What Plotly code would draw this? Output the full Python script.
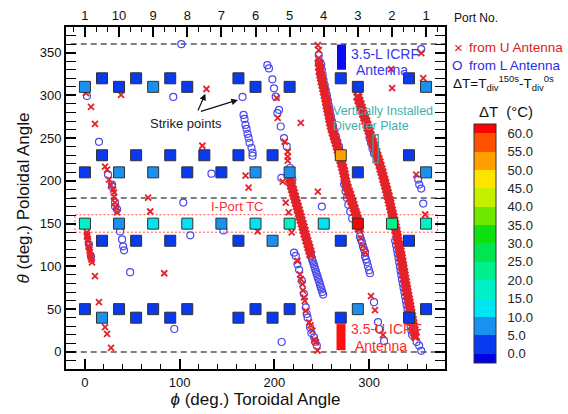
import plotly.graph_objects as go

# ---------------- data ----------------
# thermocouple squares (toroidal angle, poloidal angle, delta T)
sq_phi = [18, 54, 90, 162, 270, 342,
          0, 36, 72, 108, 180, 216, 288, 360,
          18, 54, 90, 126, 162, 198, 270, 342,
          0, 36, 72, 108, 144, 180, 216, 288, 360,
          0, 36, 72, 108, 144, 180, 216, 252, 288, 324, 360,
          18, 54, 90, 162, 198, 270, 342,
          0, 36, 72, 108, 180, 216, 288, 360,
          18, 54, 90, 162, 198, 270, 342]
sq_theta = [320] * 6 + [310] * 8 + [230] * 8 + [210] * 9 + [150] * 11 + [130] * 7 + [50] * 8 + [40] * 7
sq_dT = [2, 2, 2, 2, 2, 2,
         6, 3, 5, 2, 2, 3, 2, 6,
         2, 2, 2, 2, 2, 2, 52, 2,
         3, 6, 6, 2, 2, 8, 5, 2, 5,
         17, 8, 13, 13, 8, 13, 18, 13, 62, 23, 17,
         2, 2, 2, 2, 6, 2, 2,
         2, 2, 2, 2, 2, 2, 8, 2,
         5, 2, 2, 2, 2, 2, 2]

# strike points from U antenna (phi, theta)
u_left = [(1.1, 302.8), (6.4, 286.5), (10.6, 266.7), (21.2, 216.6), (23.3, 213.1), (25.4, 201.5),
          (27.5, 195.0), (29.7, 189.8), (30.7, 186.4), (30.7, 181.7), (31.8, 174.7), (32.8, 168.9),
          (33.9, 163.1), (2.1, 139.8), (2.5, 137.0), (2.1, 135.1), (3.0, 132.0), (3.2, 129.3),
          (3.8, 124.0), (4.2, 122.3), (4.8, 119.0), (5.3, 116.5), (5.8, 113.0), (6.4, 110.6),
          (6.9, 108.0), (7.4, 104.8), (10.6, 88.5), (14.8, 58.2), (21.2, 29.1), (23.3, 21.0), (27.5, 4.7)]
u_isolated = [(38.1, 300.5), (128.2, 307.5), (123.9, 241.1), (169.5, 206.2), (172.7, 192.2), (66.7, 180.5),
              (68.9, 164.2), (83.7, 92.0), (182.2, 140.9), (202.3, 297.0), (203.4, 273.7), (210.8, 245.8),
              (214.0, 234.1), (214.0, 228.3), (214.0, 223.6), (208.7, 199.2), (227.8, 267.9), (245.8, 187.5),
              (211.9, 174.7), (215.0, 163.1), (218.2, 139.8), (245.8, 358.7), (246.8, 352.9), (246.8, 343.6),
              (354.9, 349.4), (357.0, 320.3), (324.2, 308.6), (323.1, 330.8), (349.6, 207.3), (359.1, 160.7),
              (301.9, 65.2), (306.1, 48.9), (314.6, 19.8), (291.0, 133.0), (293.5, 124.0), (296.0, 116.0)]
u_streak1 = [(247.3, 338.0), (247.6, 333.0), (248.1, 328), (248.9, 324), (249.7, 320), (250.4, 316),
             (251.2, 312), (252.0, 308), (252.8, 304), (253.6, 300), (254.3, 296), (255.0, 292),
             (255.6, 288), (256.3, 284), (257.1, 280), (257.8, 276), (258.5, 272), (259.3, 268),
             (260.1, 264), (260.9, 260), (262.0, 256), (263.1, 252), (264.2, 248), (265.3, 244),
             (266.4, 240), (267.4, 236), (268.3, 232), (269.2, 228), (270.1, 224), (271.0, 220),
             (272.0, 216), (272.9, 212), (273.7, 208), (274.4, 204), (275.0, 200), (275.7, 196),
             (276.9, 192), (278.1, 188), (279.3, 184), (280.5, 180), (281.7, 176), (282.9, 172),
             (284.1, 168), (285.2, 164), (286.4, 160), (287.5, 156), (288.6, 152), (289.2, 148), (289.5, 144)]
u_streak2 = [(288.0, 298), (289.2, 294), (290.4, 290), (291.6, 286), (292.8, 282), (294.0, 278),
             (295.2, 274), (296.4, 270), (297.6, 266), (298.8, 262), (300.0, 258), (301.1, 254),
             (302.3, 250), (303.5, 246), (304.6, 242), (305.8, 238), (307.0, 234), (308.1, 230),
             (309.3, 226), (310.4, 222), (311.5, 218), (312.5, 214), (313.5, 210), (314.4, 206),
             (315.4, 202), (316.4, 198), (317.3, 194), (318.3, 190), (319.2, 186), (320.1, 182),
             (321.0, 178), (321.8, 174), (322.6, 170), (323.5, 166), (324.3, 162), (325.2, 158),
             (326.0, 154), (326.8, 150), (327.5, 146), (328.3, 142), (329.0, 138), (329.7, 134),
             (330.4, 130), (331.1, 126), (331.9, 122), (332.6, 118), (333.3, 114), (333.9, 110),
             (334.5, 106), (335.1, 102), (335.7, 98), (336.3, 94), (336.9, 90), (337.5, 86),
             (338.1, 82), (338.8, 78), (339.4, 74), (340.1, 70), (340.7, 66), (341.4, 62),
             (342.1, 58), (342.7, 54), (343.4, 50), (344.0, 46), (344.7, 42), (345.4, 38),
             (346.0, 34), (346.7, 30), (347.3, 26), (348.0, 22), (348.6, 18)]
u_streak3 = [(216.0, 202), (217.0, 198), (218.0, 194), (219.1, 190), (220.1, 186), (221.1, 182),
             (222.1, 178), (223.1, 174), (224.2, 170), (225.2, 166), (226.2, 162), (227.2, 158),
             (228.2, 154), (229.3, 150), (230.3, 146), (231.3, 142), (232.3, 138), (233.3, 134),
             (234.3, 130), (235.4, 126), (236.4, 122), (237.4, 118), (238.4, 114)]
u_streak4 = [(224.3, 106.3), (227.0, 90.8), (227.8, 85.0), (229.6, 79.2), (230.0, 72.0), (231.3, 63.7),
             (232.0, 59.8), (233.1, 48.1), (236.6, 34.6), (238.0, 31.0), (240.1, 24.8), (242.0, 14.0),
             (243.6, 11.3), (245.4, 1.5)]

# strike points from L antenna (phi, theta)
l_left = [(2.1, 299.3), (14.8, 245.7), (24.4, 207.3), (28.6, 195.7), (28.6, 193.3), (31.8, 174.7),
          (31.8, 170.0), (33.9, 166.6), (4.2, 125.8), (6.4, 111.8)]
l_isolated = [(101.7, 359.9), (93.2, 298.2), (166.3, 298.2), (133.5, 208.5), (103.8, 174.7), (37.1, 140.9),
              (39.2, 131.6), (40.3, 123.5), (41.3, 118.8), (47.7, 93.2), (94.3, 26.8), (111.2, 136.3),
              (146.2, 142.1), (250.0, 170.0), (207.6, 11.6), (207.3, 203.5), (246.8, 347.1), (246.8, 339.0),
              (354.9, 354.1), (351.7, 201.5), (352.8, 195.7), (354.9, 191.0), (357.0, 173.5), (305.1, 58.2),
              (309.3, 34.9), (310.4, 26.8), (315.7, 12.8)]
l_columns = [(167.4, 277.2), (168.4, 272.5), (169.5, 265.5), (170.6, 260.9), (171.6, 255.1), (172.7, 250.4),
             (173.7, 244.6), (175.8, 238.8), (176.9, 232.9), (176.9, 229.4), (192.5, 335.4), (194.2, 331.6),
             (197.8, 318.8), (199.5, 308.3), (201.3, 298.5), (203.1, 279.2), (204.8, 283.0), (206.6, 263.6),
             (210.1, 250.1), (213.0, 240.3), (216.4, 215.1), (217.2, 207.3), (218.9, 201.5)]
l_streak1 = [(249.4, 336), (250.0, 330), (250.9, 324), (251.8, 318), (253.0, 312), (254.2, 306),
             (255.4, 300), (256.4, 294), (257.4, 288), (258.4, 282), (259.5, 276), (260.6, 270),
             (261.8, 264), (263.2, 258), (264.8, 252), (266.4, 246), (268.1, 240), (269.6, 234),
             (273.5, 196), (275.0, 188), (276.5, 180), (278.0, 172), (280.0, 164), (282.0, 156),
             (290.3, 135.1), (291.3, 131.6), (292.4, 128.1), (293.4, 123.5), (294.5, 120.0), (295.6, 116.5),
             (295.6, 111.8), (296.6, 108.3), (297.7, 104.8), (298.7, 100.2), (299.8, 95.5), (300.8, 92.0)]
l_streak2 = [(300.5, 250), (302.0, 244), (303.5, 238), (305.0, 232),
             (327.4, 130), (328.3, 125), (329.2, 120), (330.1, 115), (330.9, 110), (331.6, 105),
             (332.4, 100), (333.1, 95), (333.9, 90), (334.6, 85), (335.4, 80), (336.2, 75),
             (337.1, 70), (337.9, 65), (338.7, 60), (339.5, 55), (340.4, 50), (341.2, 45),
             (342.0, 40), (342.8, 35), (343.7, 30), (344.5, 25), (345.3, 20),
             (350.0, 11.6), (352.7, 7.4), (354.9, 1.2)]
l_streak3 = [(238.7, 112), (239.6, 109), (240.4, 106), (241.3, 103), (242.1, 100), (242.9, 97),
             (243.8, 94), (244.6, 91), (245.5, 88), (246.3, 85), (247.2, 82), (248.0, 79),
             (248.8, 76), (249.7, 73), (250.5, 70), (251.4, 67)]
l_streak4 = [(220.7, 116.1), (222.5, 112.2), (224.3, 102.5), (226.0, 96.0), (229.0, 83.0), (231.0, 68.0),
             (233.1, 52.0), (234.1, 44.3), (235.0, 40.0), (237.6, 28.8), (239.0, 22.0), (241.8, 17.1),
             (243.0, 12.0), (244.7, 7.4)]

# axes / ticks
port_phi = [0, 36, 72, 108, 144, 180, 216, 252, 288, 324, 360]
port_labels = ["1", "10", "9", "8", "7", "6", "5", "4", "3", "2", "1"]
phi_ticks = [0, 100, 200, 300]
theta_ticks = [0, 50, 100, 150, 200, 250, 300, 350]
dash_levels = [0, 180, 360]

# colour bar bands
cb_edges = [-2.5, 0, 5, 10, 15, 20, 25, 30, 35, 40, 45, 50, 55, 60, 62.5]
cb_colors = ["#0000e0", "#0a3af0", "#1a90f0", "#00e4f4", "#00f0c8", "#00f08c", "#00e650",
             "#10e010", "#70e800", "#c4f000", "#ffe400", "#ffa000", "#ff5200", "#ff0000"]
cb_ticks = [0, 5, 10, 15, 20, 25, 30, 35, 40, 45, 50, 55, 60]

# ---------------- figure ----------------
FONT = "Liberation Sans, Arial, sans-serif"
L_W, R_W, T_H, B_H = 66, 123, 27, 45
PW, PH = 568 - L_W - R_W, 414 - T_H - B_H


def px2paper(px, py):
    return (px - L_W) / PW, (414 - B_H - py) / PH


def unzip(pts):
    return [p[0] for p in pts], [p[1] for p in pts]


cmin, cmax = cb_edges[0], cb_edges[-1]
cscale = []
for i, c in enumerate(cb_colors):
    cscale.append([(cb_edges[i] - cmin) / (cmax - cmin), c])
    cscale.append([(cb_edges[i + 1] - cmin) / (cmax - cmin), c])

fig = go.Figure()

L_COLOR = "#4848ee"
U_COLOR = "#e3222a"
for pts in [l_left, l_isolated, l_columns, l_streak1, l_streak2, l_streak3, l_streak4]:
    x, y = unzip(pts)
    fig.add_trace(go.Scatter(x=x, y=y, mode="markers", showlegend=False, hoverinfo="skip",
                             marker=dict(symbol="circle-open", size=7, color=L_COLOR,
                                         line=dict(width=1.2, color=L_COLOR))))
for pts, dense in [(u_left, False), (u_isolated, False), (u_streak1, True), (u_streak2, True),
                   (u_streak3, True), (u_streak4, False)]:
    x, y = unzip(pts)
    fig.add_trace(go.Scatter(x=x, y=y, mode="markers", showlegend=False, hoverinfo="skip",
                             marker=dict(symbol="x-thin", size=7.5 if dense else 6, color=U_COLOR,
                                         line=dict(width=3.5 if dense else 1.8, color=U_COLOR))))

fig.add_trace(go.Scatter(
    x=sq_phi, y=sq_theta, mode="markers", showlegend=False, hoverinfo="skip",
    marker=dict(symbol="square", size=11, color=sq_dT, cmin=cmin, cmax=cmax, colorscale=cscale,
                line=dict(width=1, color="#303030"), showscale=True,
                colorbar=dict(x=px2paper(474, 0)[0], xanchor="left", xpad=0,
                              y=px2paper(0, 124)[1], yanchor="top", ypad=0,
                              len=239, lenmode="pixels", thickness=22, thicknessmode="pixels",
                              outlinewidth=1, outlinecolor="#333333",
                              tickvals=cb_ticks, ticktext=["%.1f" % v for v in cb_ticks],
                              ticks="outside", ticklen=9, tickcolor="rgba(0,0,0,0)",
                              tickfont=dict(size=13, color="#222222", family=FONT)))))

# invisible trace so that the port axis on top is drawn
fig.add_trace(go.Scatter(x=port_phi, y=[-100] * len(port_phi), xaxis="x2", mode="markers",
                         marker=dict(opacity=0), showlegend=False, hoverinfo="skip"))

shapes = []
for lv in dash_levels:
    shapes.append(dict(type="line", x0=-15, x1=380, y0=lv, y1=lv, layer="below",
                       line=dict(color="#555555", width=1.5, dash="6px,4px")))
shapes.append(dict(type="rect", x0=-10.6, x1=372, y0=140, y1=160.5, layer="below",
                   line=dict(color="#ff5050", width=1, dash="2px,2px")))
shapes.append(dict(type="rect", x0=266, x1=275.5, y0=330, y1=359.5, fillcolor="#0a0af5",
                   line=dict(width=0)))
shapes.append(dict(type="rect", x0=265.5, x1=275, y0=2, y1=32.5, fillcolor="#ff1010",
                   line=dict(width=0)))
shapes.append(dict(type="rect", x0=304, x1=309.6, y0=221, y1=254, layer="above",
                   line=dict(color="#4a9a9a", width=1.3)))

ann = []


def pann(px, py, text, color="#111111", size=14, xanchor="left"):
    xp, yp = px2paper(px, py)
    ann.append(dict(x=xp, y=yp, xref="paper", yref="paper", text=text, showarrow=False,
                    xanchor=xanchor, yanchor="middle", font=dict(size=size, color=color, family=FONT)))


def dann(x, y, text, color, size, xanchor="left"):
    ann.append(dict(x=x, y=y, text=text, showarrow=False, xanchor=xanchor, yanchor="middle",
                    font=dict(size=size, color=color, family=FONT)))


pann(452, 18, "Port No.", size=12)
pann(458, 48, "×", color="#e02020", size=15, xanchor="center")
pann(467, 48, "from U Antenna", color="#e02020", size=13.5)
pann(457, 65, "O", color="#2a2ae8", size=13.5, xanchor="center")
pann(467, 65, "from L Antenna", color="#2a2ae8", size=13.5)
pann(451, 83, "ΔT=T<sub>div</sub><sup>150s</sup>-T<sub>div</sub><sup>0s</sup>", size=13.5)
pann(477, 112, "ΔT  (°C)", size=15)

dann(278.3, 348.0, "3.5-L ICRF", "#3535ee", 14)
dann(283.9, 329.5, "Antenna", "#3535ee", 14)
dann(278.6, 26.8, "3.5-U ICRF", "#ff2a2a", 14)
dann(282.8, 7.0, "Antenna", "#ff2a2a", 14)
dann(259.5, 282.0, "Vertically Installed", "#40b0ae", 12.5)
dann(259.5, 264.5, "Diverter Plate", "#40b0ae", 12.5)
dann(131.4, 170, "I-Port TC", "#ff3030", 13)
dann(107, 266.7, "Strike points", "#1a1a1a", 13, xanchor="center")
for hx, hy, tx, ty in [(127.1, 302.0, 118.6, 280.7), (161.5, 294.7, 120.8, 280.7)]:
    ann.append(dict(x=hx, y=hy, ax=tx, ay=ty, axref="x", ayref="y", text="", showarrow=True,
                    arrowhead=2, arrowsize=1.1, arrowwidth=1.2, arrowcolor="#111111", standoff=0))

axis_common = dict(showline=True, linecolor="black", linewidth=2, showgrid=False, zeroline=False,
                   ticks="inside", ticklen=10, tickwidth=1.5, tickcolor="black", automargin=False,
                   tickfont=dict(size=13, color="#111111", family=FONT))

fig.update_layout(
    width=568, height=414, margin=dict(l=L_W, r=R_W, t=T_H, b=B_H, autoexpand=False),
    paper_bgcolor="white", plot_bgcolor="white", font=dict(family=FONT),
    xaxis=dict(range=[-20, 380], tickvals=phi_ticks, mirror=False,
               minor=dict(tick0=0, dtick=20, ticks="inside", ticklen=5, tickcolor="black", tickwidth=1),
               title=dict(text="<i>ϕ</i> (deg.) Toroidal Angle", font=dict(size=17, color="#111111"),
                          standoff=4),
               **axis_common),
    xaxis2=dict(range=[-20, 380], overlaying="x", side="top", anchor="y", tickvals=port_phi,
                ticktext=port_labels,
                minor=dict(tick0=0, dtick=12, ticks="inside", ticklen=5, tickcolor="black", tickwidth=1),
                **axis_common),
    yaxis=dict(range=[-20, 380], tickvals=theta_ticks, mirror="allticks",
               minor=dict(tick0=0, dtick=10, ticks="inside", ticklen=5, tickcolor="black", tickwidth=1),
               title=dict(text="<i>θ</i> (deg.) Poloidal Angle", font=dict(size=17, color="#111111"),
                          standoff=6),
               **axis_common),
    shapes=shapes, annotations=ann,
)

fig.write_html("out.html", config={"displayModeBar": False},
               post_script="document.body.style.margin='0px';")
